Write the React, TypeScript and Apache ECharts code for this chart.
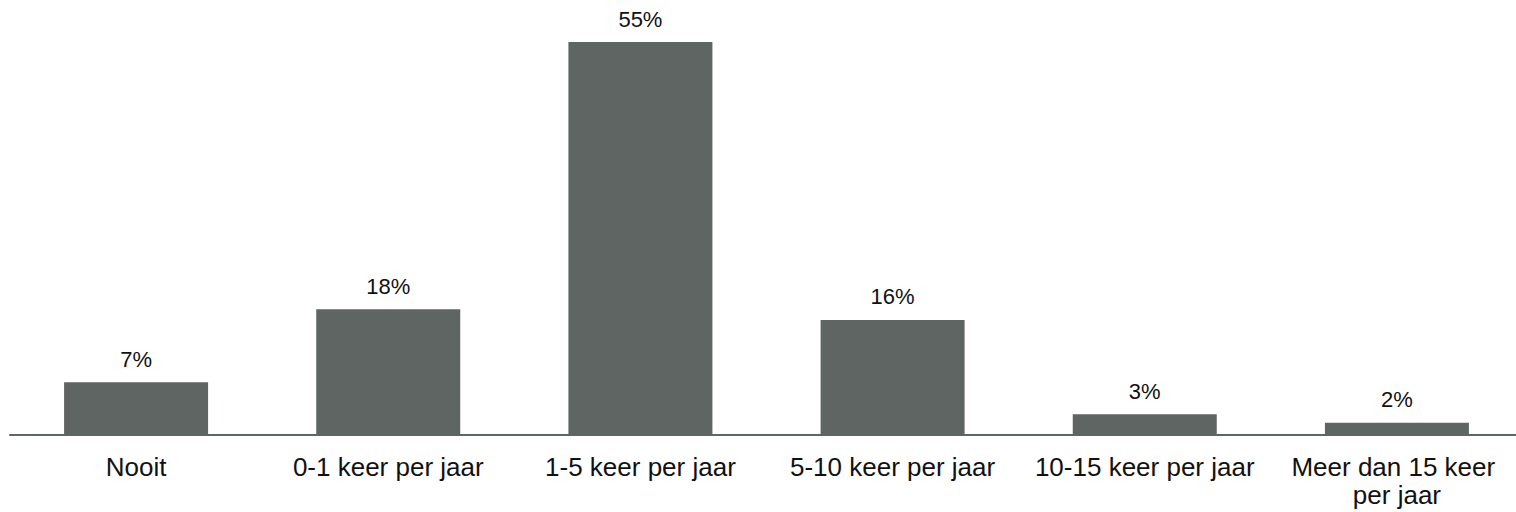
import React, { useEffect, useRef } from "react";
import * as echarts from "echarts";

const categories = [
  "Nooit",
  "0-1 keer per jaar",
  "1-5 keer per jaar",
  "5-10 keer per jaar",
  "10-15 keer per jaar",
  "Meer dan 15 keer per jaar",
];
const values = [7.4, 17.6, 55.0, 16.1, 2.9, 1.7];

const FONT = "'Liberation Sans', Arial, Helvetica, sans-serif";

export default function App() {
  const ref = useRef<HTMLDivElement>(null);
  useEffect(() => {
    if (!ref.current) return;
    const chart = echarts.init(ref.current, undefined, { renderer: "svg" });
    chart.setOption({
      animation: false,
      backgroundColor: "#ffffff",
      grid: {
        left: 10,
        top: 6.3,
        width: 1513,
        bottom: 77,
        containLabel: false,
        outerBoundsMode: "none",
      },
      xAxis: {
        type: "category",
        data: categories,
        axisLine: { show: true, lineStyle: { color: "#5f6663", width: 2 } },
        axisTick: { show: false },
        axisLabel: {
          interval: 0,
          margin: 18,
          fontSize: 26,
          lineHeight: 28,
          color: "#111111",
          fontFamily: FONT,
          width: 240,
          overflow: "break",
        },
      },
      yAxis: {
        type: "value",
        min: 0,
        max: 60,
        show: false,
        splitLine: { show: false },
      },
      series: [
        {
          type: "bar",
          data: values,
          barWidth: 144,
          itemStyle: { color: "#5e6562" },
          label: {
            show: true,
            position: "top",
            distance: 12,
            fontSize: 22,
            lineHeight: 22,
            color: "#111111",
            fontFamily: FONT,
            formatter: (p: any) => Math.round(p.value) + "%",
          },
        },
      ],
    });
    return () => chart.dispose();
  }, []);
  return (
    <div
      ref={ref}
      style={{ position: "absolute", left: 0, top: 0, width: 1516, height: 512 }}
    />
  );
}
